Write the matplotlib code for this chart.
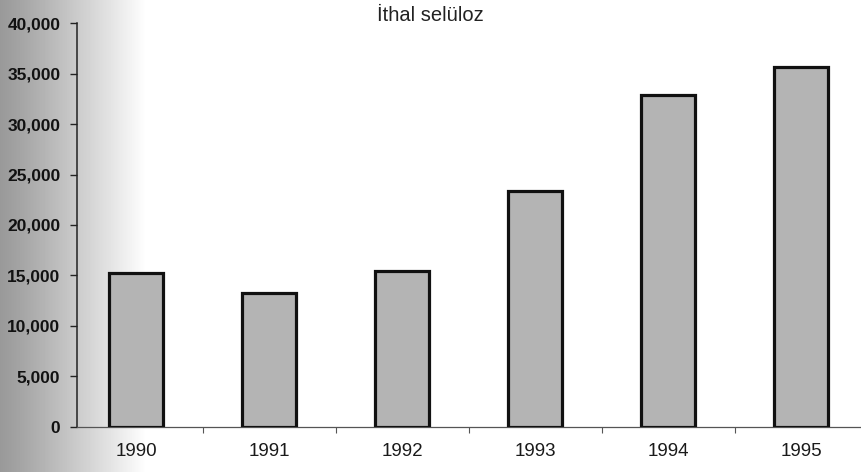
import numpy as np
import matplotlib.pyplot as plt
from matplotlib.ticker import FuncFormatter, FixedLocator

plt.rcParams['font.family'] = ['Liberation Sans', 'DejaVu Sans']

# data
years = ['1990', '1991', '1992', '1993', '1994', '1995']
imports = [15200, 13300, 15400, 23400, 32900, 35700]
y_ticks = [0, 5000, 10000, 15000, 20000, 25000, 30000, 35000, 40000]
title = 'İthal selüloz'

fig = plt.figure(figsize=(8.61, 4.72), dpi=100)

# grey shading on the left edge of the scan
bg = fig.add_axes([0, 0, 1, 1], zorder=-1)
xs = np.linspace(0, 1, 861)
shade = np.clip(xs / 0.17, 0, 1) ** 1.1
shade = 0.6 + 0.4 * shade
bg.imshow(np.tile(shade, (10, 1)), cmap='gray', vmin=0, vmax=1,
          aspect='auto', extent=[0, 1, 0, 1])
bg.set_xlim(0, 1)
bg.set_ylim(0, 1)
bg.axis('off')

ax = fig.add_axes([0.0894, 0.096, 0.9106, 0.8547])
ax.patch.set_alpha(0)

x = np.arange(len(years))
ax.bar(x, imports, width=0.41, color='#b4b4b4', edgecolor='#111111',
       linewidth=2.3, zorder=3)

ax.set_xlim(-0.444, 5.45)
ax.set_ylim(0, 40000)

ax.set_yticks(y_ticks)
ax.yaxis.set_major_formatter(FuncFormatter(lambda v, p: f'{int(v):,}'))
ax.tick_params(axis='y', direction='out', length=5, width=1, color='#222222',
               pad=7, labelsize=12.5, labelcolor='#111111')
for lab in ax.get_yticklabels():
    lab.set_fontweight('bold')

ax.set_xticks(x)
ax.set_xticklabels(years)
ax.xaxis.set_minor_locator(FixedLocator(x[:-1] + 0.5))
ax.tick_params(axis='x', which='major', length=0, pad=12, labelsize=13.5,
               labelcolor='#1a1a1a')
ax.tick_params(axis='x', which='minor', direction='out', length=4, width=0.8,
               color='#555555')

for side in ['top', 'right']:
    ax.spines[side].set_visible(False)
ax.spines['left'].set_color('#222222')
ax.spines['left'].set_linewidth(1.1)
ax.spines['bottom'].set_color('#555555')
ax.spines['bottom'].set_linewidth(0.9)

fig.text(0.5, 0.955, title, ha='center', va='baseline', fontsize=14.5,
         color='#222222')

fig.savefig('out.png', dpi=100)
